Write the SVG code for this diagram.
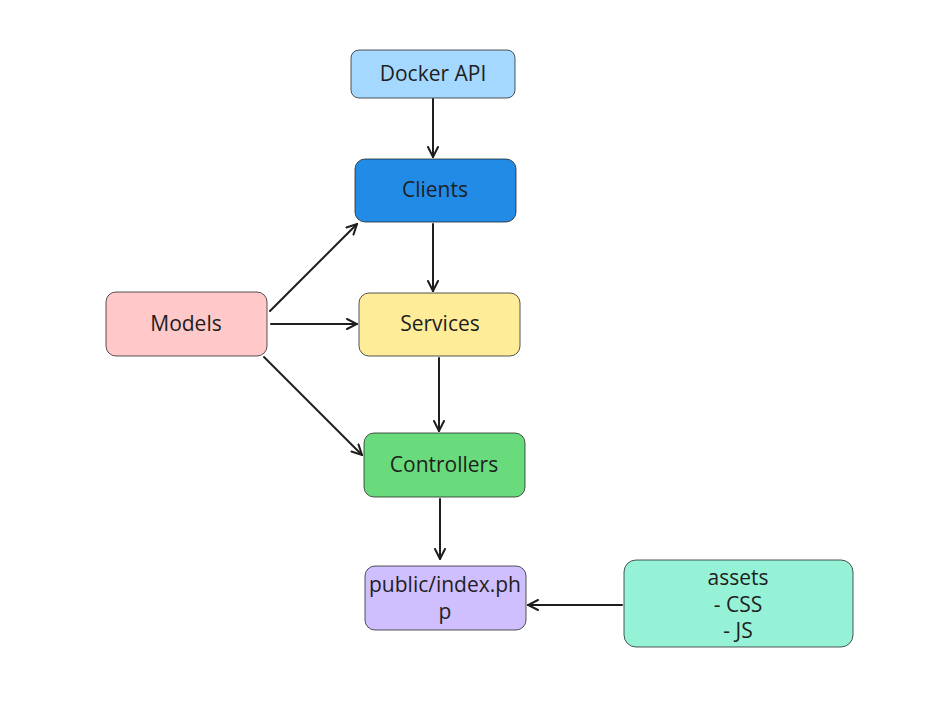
<svg xmlns="http://www.w3.org/2000/svg" width="933" height="711" viewBox="0 0 933 711">
<defs>
<style>
.box{stroke:#1e1e1e;stroke-width:1;stroke-opacity:0.75}
.lbl{font-family:"Open Sans","Liberation Sans",sans-serif;font-size:21px;fill:#1e1e1e;text-anchor:middle;dominant-baseline:central}
.edge{stroke:#1e1e1e;stroke-width:2;fill:none;stroke-linecap:round;marker-end:url(#ah)}
</style>
<marker id="ah" viewBox="0 0 12 12" refX="11" refY="6" markerWidth="12" markerHeight="12" markerUnits="userSpaceOnUse" orient="auto">
<path d="M1,1 L11,6 L1,11" fill="none" stroke="#1e1e1e" stroke-width="2" stroke-linecap="round"/>
</marker>
</defs>
<rect width="933" height="711" fill="#ffffff"/>
<g id="edges">
<line class="edge" x1="433" y1="99" x2="433" y2="157"/>
<line class="edge" x1="433" y1="224" x2="433" y2="291"/>
<line class="edge" x1="270" y1="311" x2="357" y2="224"/>
<line class="edge" x1="271" y1="324" x2="357" y2="324"/>
<line class="edge" x1="264" y1="357" x2="362" y2="455"/>
<line class="edge" x1="439" y1="358" x2="439" y2="431"/>
<line class="edge" x1="440" y1="499" x2="440" y2="559"/>
<line class="edge" x1="622" y1="605" x2="528" y2="605"/>
</g>
<g id="docker">
<rect class="box" x="351" y="50" width="164" height="48" rx="8" fill="#a5d8ff"/>
<text class="lbl" x="433" y="73">Docker API</text>
</g>
<g id="clients">
<rect class="box" x="355" y="159" width="161" height="63" rx="10" fill="#228be6"/>
<text class="lbl" x="435" y="189">Clients</text>
</g>
<g id="models">
<rect class="box" x="106" y="292" width="161" height="64" rx="10" fill="#ffc9c9"/>
<text class="lbl" x="186" y="323">Models</text>
</g>
<g id="services">
<rect class="box" x="359" y="293" width="161" height="63" rx="10" fill="#ffec99"/>
<text class="lbl" x="440" y="323">Services</text>
</g>
<g id="controllers">
<rect class="box" x="364" y="433" width="161" height="64" rx="10" fill="#69db7c"/>
<text class="lbl" x="444" y="464">Controllers</text>
</g>
<g id="public">
<rect class="box" x="365" y="566" width="161" height="64" rx="10" fill="#d0bfff"/>
<text class="lbl" x="445" y="584">public/index.ph</text>
<text class="lbl" x="445" y="611">p</text>
</g>
<g id="assets">
<rect class="box" x="624" y="560" width="229" height="87" rx="12" fill="#96f2d7"/>
<text class="lbl" x="738" y="577">assets</text>
<text class="lbl" x="738" y="604">- CSS</text>
<text class="lbl" x="738" y="630">- JS</text>
</g>
</svg>
